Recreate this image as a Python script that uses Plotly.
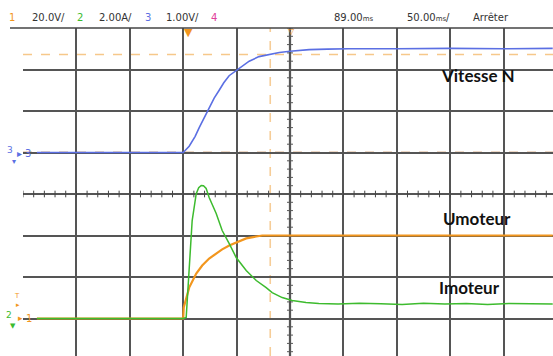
import plotly.graph_objects as go

# ---- data (time in ms, trigger at 0) ----
t_speed = [-137, 0, 5.6, 11.2, 15, 20, 24.3, 29, 33.7, 38, 43, 50.6, 56, 61.8, 71, 81.5, 90, 100, 110, 118, 135, 155, 200, 250, 300, 346]
v_speed = [0, 0, 0.15, 0.39, 0.6, 0.86, 1.1, 1.31, 1.5, 1.68, 1.85, 1.99, 2.1, 2.2, 2.31, 2.37, 2.41, 2.44, 2.46, 2.48, 2.49, 2.5, 2.5, 2.51, 2.5, 2.51]

t_cur = [-137, 0, 2.8, 5.6, 8.4, 12.2, 14.5, 16.9, 19, 21.5, 24.3, 30.9, 36.5, 43.1, 49.6, 59, 68.4, 77.7, 83.3, 92.7, 102, 115, 127, 145, 165, 185, 205, 225, 245, 265, 285, 305, 325, 346]
i_cur = [0, 0, 0.05, 2.31, 4.72, 6.02, 6.3, 6.41, 6.4, 6.27, 5.83, 5.06, 4.24, 3.61, 2.94, 2.31, 1.83, 1.49, 1.25, 1.01, 0.87, 0.77, 0.72, 0.70, 0.74, 0.71, 0.68, 0.73, 0.70, 0.72, 0.67, 0.72, 0.70, 0.70]

t_volt = [-137, 0, 0.5, 5.6, 12.2, 17.8, 24.3, 30.9, 36.5, 43.1, 49.6, 59, 68.4, 74, 80, 100, 200, 346]
u_volt = [0, 0, 5.3, 14.9, 21.7, 25.5, 28.9, 31.3, 33.3, 35.2, 36.6, 38.6, 39.5, 40.0, 40.0, 40.0, 40.0, 40.0]

cursor_x1, cursor_x2 = 0, 81.5      # ms
cursor_y1, cursor_y2 = 0, 2.36      # ch3 volts

labels = ["Vitesse N", "Umoteur", "Imoteur"]

W, H = 553, 356
L, T = 23, 28
PW, PH = W - L, H - T
def xp(px): return (px - L) / PW
def yp(py): return (H - py) / PH

BLUE = "#5b6fe3"
GREEN = "#3dbb2e"
ORANGE = "#f2961e"
GRID = "#555555"

fig = go.Figure()
fig.add_trace(go.Scatter(x=t_volt, y=u_volt, mode="lines", line=dict(color=ORANGE, width=2.2), yaxis="y"))
fig.add_trace(go.Scatter(x=t_cur, y=i_cur, mode="lines", line=dict(color=GREEN, width=1.5), yaxis="y2"))
fig.add_trace(go.Scatter(x=t_speed, y=v_speed, mode="lines", line=dict(color=BLUE, width=1.6), yaxis="y3"))

shapes = []
# cursors
shapes.append(dict(type="line", xref="x", yref="paper", x0=cursor_x1, x1=cursor_x1, y0=0, y1=1,
                   line=dict(color="#b8661f", width=1.4, dash="dash"), layer="between"))
shapes.append(dict(type="line", xref="paper", yref="y3", x0=0, x1=1, y0=cursor_y1, y1=cursor_y1,
                   line=dict(color="#b8661f", width=1.4, dash="dash"), layer="between"))
shapes.append(dict(type="line", xref="x", yref="paper", x0=cursor_x2, x1=cursor_x2, y0=0, y1=1,
                   line=dict(color="#f6cd98", width=1.6, dash="dash"), layer="between"))
shapes.append(dict(type="line", xref="paper", yref="y3", x0=0, x1=1, y0=cursor_y2, y1=cursor_y2,
                   line=dict(color="#f6c88a", width=1.4, dash="dash"), layer="between"))
# center axes
shapes.append(dict(type="line", xref="x", yref="paper", x0=100, x1=100, y0=0, y1=1,
                   line=dict(color="#a8a8a8", width=2.5), layer="between"))
shapes.append(dict(type="line", xref="paper", yref="y", x0=0, x1=1, y0=60, y1=60,
                   line=dict(color="#6a6a6a", width=1), layer="between"))
for k in range(-19, 21):
    yv = 60 + 4 * k
    shapes.append(dict(type="line", xref="x", yref="y", x0=100 - 2.8, x1=100 + 2.8, y0=yv, y1=yv,
                       line=dict(color="#555555", width=1), layer="between"))
for k in range(0, 50):
    xv = -150 + 10 * k
    shapes.append(dict(type="line", xref="x", yref="y", x0=xv, x1=xv, y0=60 - 1.6, y1=60 + 1.6,
                       line=dict(color="#444444", width=1), layer="between"))
# top border
shapes.append(dict(type="line", xref="paper", yref="paper", x0=xp(10), x1=1, y0=1, y1=1,
                   line=dict(color="#444444", width=1.5)))

ann = []
def txt(px, py, s, color="#333333", size=10, family="DejaVu Sans", bold=False):
    f = dict(color=color, size=size, family=family)
    if bold:
        f["weight"] = "bold"
    ann.append(dict(xref="paper", yref="paper", x=xp(px), y=yp(py), text=s, showarrow=False,
                    xanchor="center", yanchor="middle", font=f))

# header
txt(12, 18, "1", ORANGE)
txt(48, 18, "20.0V/")
txt(80, 18, "2", GREEN)
txt(115, 18, "2.00A/")
txt(148, 18, "3", BLUE)
txt(182, 18, "1.00V/")
txt(214, 18, "4", "#e0409a")
txt(353, 18, "89.00<span style='font-size:7px'>ms</span>")
txt(428, 18, "50.00<span style='font-size:7px'>ms</span>/")
txt(491, 18, "Arrêter")

# markers
txt(188, 32, "▼", ORANGE, 11)
txt(291, 31, "▽", ORANGE, 8)
txt(10, 150, "3", BLUE, 9)
txt(19, 153, "▸", BLUE, 10)
txt(28, 153, "3", BLUE, 10)
txt(14, 161, "▾", BLUE, 8)
txt(17, 296, "T", ORANGE, 7)
txt(18, 305, "▸", ORANGE, 7)
txt(9, 315, "2", GREEN, 9)
txt(20, 318, "▸", ORANGE, 9)
txt(29, 318, "1", ORANGE, 10)
txt(13, 326, "▼", GREEN, 7)

# labels
txt(478, 75, labels[0], "#111111", 17, "Lato", True)
txt(477, 218, labels[1], "#111111", 17, "Lato", True)
txt(469, 287, labels[2], "#111111", 17, "Lato", True)

fig.update_layout(
    width=W, height=H, margin=dict(l=L, r=0, t=T, b=0),
    paper_bgcolor="white", plot_bgcolor="white", showlegend=False,
    xaxis=dict(range=[-150, -150 + PW / 53.4 * 50], dtick=50, tick0=-150, showgrid=True,
               gridcolor=GRID, gridwidth=1.5, showticklabels=False, zeroline=False, ticks=""),
    yaxis=dict(range=[-18.07, 140], dtick=20, tick0=0, showgrid=True, gridcolor=GRID, gridwidth=1.5,
               showticklabels=False, zeroline=False, ticks=""),
    yaxis2=dict(range=[-1.807, 14], overlaying="y", visible=False),
    yaxis3=dict(range=[-4.904, 3.0], overlaying="y", visible=False),
    shapes=shapes, annotations=ann,
)
fig.write_html("out.html", config={"displayModeBar": False},
               post_script="document.body.style.margin='0';document.body.style.overflow='hidden';")
